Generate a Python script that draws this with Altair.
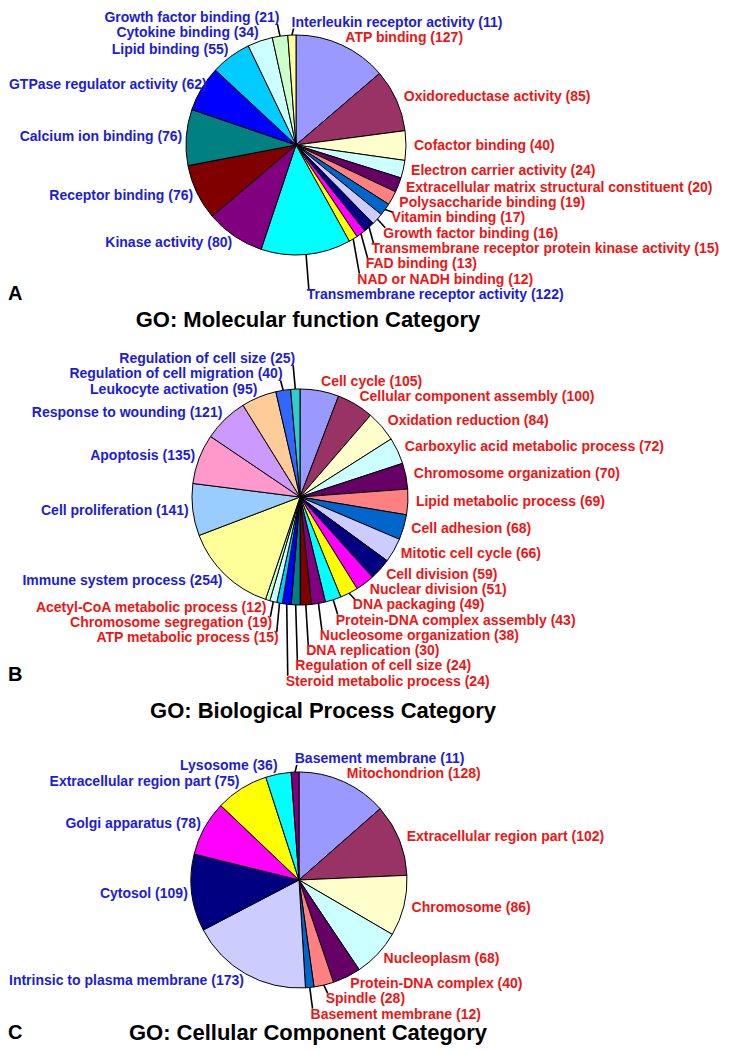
import math
import altair as alt
import pandas as pd

# ---------------- data ----------------
mf_names = ["ATP binding", "Oxidoreductase activity", "Cofactor binding", "Electron carrier activity",
            "Extracellular matrix structural constituent", "Polysaccharide binding", "Vitamin binding",
            "Growth factor binding", "Transmembrane receptor protein kinase activity", "FAD binding",
            "NAD or NADH binding", "Transmembrane receptor activity", "Kinase activity", "Receptor binding",
            "Calcium ion binding", "GTPase regulator activity", "Lipid binding", "Cytokine binding",
            "Growth factor binding", "Interleukin receptor activity"]
mf_values = [127, 85, 40, 24, 20, 19, 17, 16, 15, 13, 12, 122, 80, 76, 76, 62, 55, 34, 21, 11]
mf_groups = ["up", "up", "up", "up", "up", "up", "up", "up", "up", "up", "up",
             "down", "down", "down", "down", "down", "down", "down", "down", "down"]

bp_names = ["Cell cycle", "Cellular component assembly", "Oxidation reduction",
            "Carboxylic acid metabolic process", "Chromosome organization", "Lipid metabolic process",
            "Cell adhesion", "Mitotic cell cycle", "Cell division", "Nuclear division", "DNA packaging",
            "Protein-DNA complex assembly", "Nucleosome organization", "DNA replication",
            "Regulation of cell size", "Steroid metabolic process", "ATP metabolic process",
            "Chromosome segregation", "Acetyl-CoA metabolic process", "Immune system process",
            "Cell proliferation", "Apoptosis", "Response to wounding", "Leukocyte activation",
            "Regulation of cell migration", "Regulation of cell size"]
bp_values = [105, 100, 84, 72, 70, 69, 68, 66, 59, 51, 49, 43, 38, 30, 24, 24, 15, 19, 12,
             254, 141, 135, 121, 95, 40, 25]
bp_groups = ["up"] * 19 + ["down"] * 7

cc_names = ["Mitochondrion", "Extracellular region part", "Chromosome", "Nucleoplasm",
            "Protein-DNA complex", "Spindle", "Basement membrane", "Intrinsic to plasma membrane",
            "Cytosol", "Golgi apparatus", "Extracellular region part", "Lysosome", "Basement membrane"]
cc_values = [128, 102, 86, 68, 40, 28, 12, 173, 109, 78, 75, 36, 11]
cc_groups = ["up"] * 7 + ["down"] * 6

titles = ["GO: Molecular function Category", "GO: Biological Process Category",
          "GO: Cellular Component Category"]
letters = ["A", "B", "C"]

# ---------------- styles / layout ----------------
PALETTE = ["#9999FF", "#993366", "#FFFFCC", "#CCFFFF", "#660066", "#FF8080", "#0066CC", "#CCCCFF",
           "#000080", "#FF00FF", "#FFFF00", "#00FFFF", "#800080", "#800000", "#008080", "#0000FF",
           "#00CCFF", "#CCFFFF", "#CCFFCC", "#FFFF99", "#99CCFF", "#FF99CC", "#CC99FF", "#FFCC99",
           "#3366FF", "#33CCCC"]
GROUP_COLOR = {"up": "#EE1515", "down": "#1C1CD8"}
FONT = "Liberation Sans"
LABEL_SIZE = 14

W, H = 713, 1040
XS = alt.Scale(domain=[8, 8 + W], range=[0, W])
YS = alt.Scale(domain=[8, 8 + H], range=[0, H])

pies = [
    dict(names=mf_names, values=mf_values, groups=mf_groups, cx=296, cy=145, r=110,
         tx=308, ty=320, ly=294),
    dict(names=bp_names, values=bp_values, groups=bp_groups, cx=300, cy=497, r=108,
         tx=323, ty=711, ly=675),
    dict(names=cc_names, values=cc_values, groups=cc_groups, cx=299, cy=880, r=108,
         tx=308, ty=1033, ly=1033),
]

GAP_R = 8        # label distance outside the pie (right-hand labels, and vertical)
GAP_L = 4        # horizontal distance for left-hand labels
STEP = 15.3      # minimum vertical spacing of labels
RIGHT_UNTIL = 189.0   # labels of slices up to this angle sit on the right
WRAP_FROM = 357.7     # slices this close to 12 o'clock put their label on the right too

# approximate bold sans advance widths (per 1000 em), used only to keep labels on the page
_CW = {" ": 278, "(": 333, ")": 333, "-": 333, "A": 722, "B": 722, "C": 722, "D": 722, "E": 667,
       "F": 611, "G": 778, "H": 722, "I": 278, "K": 722, "L": 611, "M": 833, "N": 722, "O": 778,
       "P": 667, "R": 722, "S": 667, "T": 611, "V": 667, "a": 556, "b": 611, "c": 556, "d": 611,
       "e": 556, "f": 333, "g": 611, "h": 611, "i": 278, "j": 278, "k": 556, "l": 278, "m": 889,
       "n": 611, "o": 611, "p": 611, "q": 611, "r": 389, "s": 556, "t": 333, "u": 611, "v": 556,
       "w": 778, "x": 556, "y": 556, "z": 500}


def text_width(t, size):
    return sum(_CW.get(ch, 556) for ch in t) * size / 1000.0


slice_rows, label_rows, lead_rows, title_rows = [], [], [], []
for k, p in enumerate(pies):
    total = float(sum(p["values"]))
    cum = 0.0
    labs = []
    for i, (n, v, g) in enumerate(zip(p["names"], p["values"], p["groups"])):
        slice_rows.append(dict(pie=k, idx=i, value=v, color=PALETTE[i],
                               cx=p["cx"], cy=p["cy"], r=p["r"]))
        mid = (cum + v / 2.0) / total * 360.0
        cum += v
        t = math.radians(mid)
        s, c = math.sin(t), math.cos(t)
        right = mid < RIGHT_UNTIL or mid > WRAP_FROM
        text = f"{n} ({v})"
        wdt = text_width(text, LABEL_SIZE)
        if right:
            x = p["cx"] + (p["r"] + GAP_R) * s
            x = min(x, 8 + W - wdt - 1)
            key = mid if mid < 270 else mid - 360
        else:
            x = p["cx"] + (p["r"] + GAP_L) * s
            x = max(x, 8 + wdt + 1)
            key = -mid
        labs.append(dict(text=text, color=GROUP_COLOR[g], right=right, key=key, x=x,
                         y0=p["cy"] - (p["r"] + GAP_R) * c,
                         ex=p["cx"] + p["r"] * s, ey=p["cy"] - p["r"] * c))
    for side in (True, False):
        grp = [l for l in labs if l["right"] == side]
        for l in grp:
            l["y"] = l["y0"]
        lower = sorted([l for l in grp if l["y0"] >= p["cy"]], key=lambda l: l["key"])
        prev = None
        for l in lower:
            if prev is not None:
                l["y"] = max(l["y0"], prev + STEP)
            prev = l["y"]
        upper = sorted([l for l in grp if l["y0"] < p["cy"]], key=lambda l: -l["key"])
        prev = None
        for l in upper:
            if prev is not None:
                l["y"] = min(l["y0"], prev - STEP)
            prev = l["y"]
    for l in labs:
        label_rows.append(dict(text=l["text"], color=l["color"], x=l["x"], y=l["y"],
                               side="left" if l["right"] else "right"))
        dy = l["y"] - l["y0"]
        if abs(dy) > 3:
            ex2 = l["x"] + (2 if l["right"] else -2)
            ey2 = l["y"] - 6 if dy > 0 else l["y"] + 6
            lead_rows.append(dict(x=l["ex"], y=l["ey"], x2=ex2, y2=ey2))
    title_rows.append(dict(text=titles[k], x=p["tx"], y=p["ty"], align="center"))
    title_rows.append(dict(text=letters[k], x=8, y=p["ly"], align="left"))

slices = pd.DataFrame(slice_rows)
labels = pd.DataFrame(label_rows)
leads = pd.DataFrame(lead_rows)
heads = pd.DataFrame(title_rows)

arcs = alt.Chart(slices).transform_joinaggregate(
    total="sum(value)", groupby=["pie"]
).transform_window(
    cum="sum(value)", groupby=["pie"], sort=[alt.SortField("idx")], frame=[None, 0]
).transform_calculate(
    t0="(datum.cum - datum.value) / datum.total", t1="datum.cum / datum.total"
).mark_arc(stroke="#000000", strokeWidth=1).encode(
    x=alt.X("cx:Q", scale=XS, axis=None),
    y=alt.Y("cy:Q", scale=YS, axis=None),
    theta=alt.Theta("t0:Q", scale=alt.Scale(domain=[0, 1], range=[0, 2 * math.pi])),
    theta2="t1:Q",
    radius=alt.Radius("r:Q", scale=None),
    color=alt.Color("color:N", scale=None),
)

lines = alt.Chart(leads).mark_rule(color="#000000", strokeWidth=1.6).encode(
    x=alt.X("x:Q", scale=XS, axis=None), y=alt.Y("y:Q", scale=YS, axis=None),
    x2="x2:Q", y2="y2:Q",
)


def label_layer(side):
    return alt.Chart(labels).transform_filter(f"datum.side == '{side}'").mark_text(
        align=side, baseline="middle", font=FONT, fontSize=LABEL_SIZE, fontWeight="bold"
    ).encode(
        x=alt.X("x:Q", scale=XS, axis=None), y=alt.Y("y:Q", scale=YS, axis=None),
        text="text:N", color=alt.Color("color:N", scale=None),
    )


def head_layer(align, size):
    return alt.Chart(heads).transform_filter(f"datum.align == '{align}'").mark_text(
        align=align, baseline="middle", font=FONT, fontSize=size, fontWeight="bold", color="#000000"
    ).encode(
        x=alt.X("x:Q", scale=XS, axis=None), y=alt.Y("y:Q", scale=YS, axis=None),
        text="text:N",
    )


chart = alt.layer(
    arcs, lines, label_layer("left"), label_layer("right"),
    head_layer("center", 22), head_layer("left", 20),
).properties(
    width=W, height=H, padding=0, autosize=alt.AutoSizeParams(type="none"),
    background="#FFFFFF",
).configure_view(stroke=None)

chart.save("out.html", embed_options={"renderer": "svg", "actions": False})
